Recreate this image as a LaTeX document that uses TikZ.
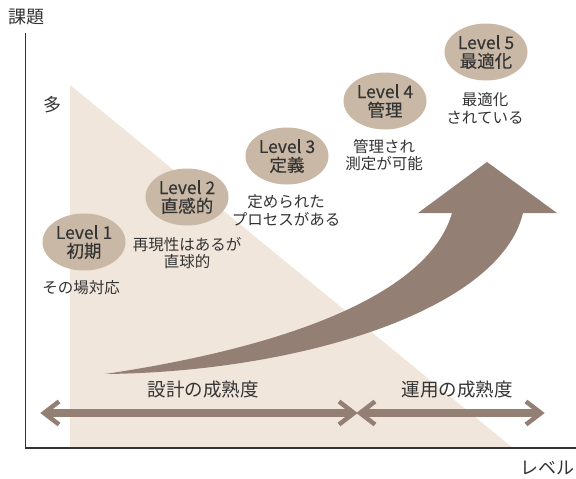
\documentclass[tikz,border=0pt]{standalone}
\usepackage{fontspec}
\setmainfont{Noto Sans CJK JP}
\newfontfamily\lvlfont[FakeBold=0.2]{Noto Sans CJK JP}
\usetikzlibrary{calc,shapes.geometric}
\definecolor{bgtri}{HTML}{F1E6DC}
\definecolor{lvl}{HTML}{C9B8A5}
\definecolor{arr}{HTML}{937F73}
\definecolor{txt}{HTML}{333333}
\begin{document}
\begin{tikzpicture}[x=1pt,y=-1pt,
  lvlnode/.style={ellipse, fill=lvl, minimum width=83pt, minimum height=57pt, inner sep=0pt,
    align=center, text=txt, font=\lvlfont\fontsize{17.5}{18.5}\selectfont},
  desc/.style={align=center, text=txt, font=\fontsize{15.5}{17.5}\selectfont},
  bigtxt/.style={text=txt, font=\fontsize{18.5}{20}\selectfont},
  axlabel/.style={text=txt, font=\fontsize{18}{20}\selectfont},
  axisline/.style={draw=txt, line width=1.4pt},
  shaft/.style={draw=arr, line width=8pt},
  barb/.style={draw=arr, line width=4.5pt, line join=miter}
]
\useasboundingbox (0,0) rectangle (576,479);
% background triangle
\fill[bgtri] (70,85) -- (513,448) -- (70,448) -- cycle;
% axes
\coordinate (ytop) at (25.5,33);
\coordinate (origin) at (25.5,448);
\coordinate (xend) at (576,448);
\draw[axisline] (ytop) -- (origin) -- (xend);
\node[axlabel] (yl) at (27,17) {課題};
\node[axlabel] (many) at (52,105) {多};
\node[axlabel, anchor=east, inner xsep=1pt] (xl) at (576,468) {レベル};
% big arrow
\coordinate (tail) at (105,374);
\fill[arr] (tail) .. controls (300,345) and (430,290) .. (452,213) -- (418,213) -- (487,162)
  -- (557,213) -- (523,213) .. controls (500,310) and (300,372) .. (tail) -- cycle;
% levels
\node[lvlnode] (L1) at (84,242) {Level 1\\初期};
\node[lvlnode] (L2) at (187,197) {Level 2\\直感的};
\node[lvlnode] (L3) at (287,156) {Level 3\\定義};
\node[lvlnode] (L4) at (385,101) {Level 4\\管理};
\node[lvlnode] (L5) at (486,52) {Level 5\\最適化};
\node[desc] (d1) at (81,288) {その場対応};
\node[desc] (d2) at (187,253) {再現性はあるが\\直球的};
\node[desc] (d3) at (286,210.5) {定められた\\プロセスがある};
\node[desc] (d4) at (384,155) {管理され\\測定が可能};
\node[desc] (d5) at (485,108.5) {最適化\\されている};
% maturity arrows
\coordinate (la) at (44,413);
\coordinate (lb) at (354,413);
\coordinate (ra) at (360,413);
\coordinate (rb) at (541,413);
\draw[shaft, shorten <=3pt, shorten >=3pt] (la) -- (lb);
\draw[shaft, shorten <=3pt, shorten >=3pt] (ra) -- (rb);
\draw[barb] ($(la)+(15,-11.5)$) -- (la) -- ($(la)+(15,11.5)$);
\draw[barb] ($(lb)+(-15,-11.5)$) -- (lb) -- ($(lb)+(-15,11.5)$);
\draw[barb] ($(ra)+(15,-11.5)$) -- (ra) -- ($(ra)+(15,11.5)$);
\draw[barb] ($(rb)+(-15,-11.5)$) -- (rb) -- ($(rb)+(-15,11.5)$);
\node[bigtxt] (m1) at (203,390) {設計の成熟度};
\node[bigtxt] (m2) at (457,390) {運用の成熟度};
\end{tikzpicture}
\end{document}
